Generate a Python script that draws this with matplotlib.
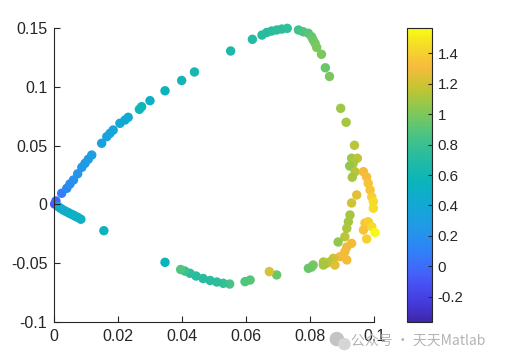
import numpy as np
import matplotlib
matplotlib.use('Agg')
import matplotlib.pyplot as plt
from matplotlib.colors import LinearSegmentedColormap
from matplotlib.patches import Ellipse

# scatter points: x, y and colour value
x = [0.0001, 0.0005, 0.0023, 0.0039, 0.0049, 0.0060, 0.0073, 0.0086, 0.0096, 0.0106,
     0.0117, 0.0148, 0.0164, 0.0174, 0.0184, 0.0205, 0.0221, 0.0231, 0.0266, 0.0273,
     0.0299, 0.0346, 0.0398, 0.0438, 0.0551, 0.0619, 0.0649, 0.0664, 0.0679, 0.0695,
     0.0711, 0.0728, 0.0763, 0.0778, 0.0794, 0.0804, 0.0809, 0.0815, 0.0820, 0.0835,
     0.0847, 0.0860, 0.0895, 0.0912, 0.0938, 0.0929, 0.0947, 0.0934, 0.0923, 0.0940,
     0.0966, 0.0976, 0.0931, 0.0981, 0.0987, 0.0945, 0.0992, 0.0997, 0.0929, 0.0997,
     0.0924, 0.0919, 0.0971, 0.0981, 0.0992, 0.0914, 0.0966, 0.1002, 0.0908, 0.0976,
     0.0887, 0.0929, 0.0914, 0.0908, 0.0893, 0.0914, 0.0872, 0.0862, 0.0877, 0.0851,
     0.0841, 0.0841, 0.0809, 0.0804, 0.0794, 0.0695, 0.0672, 0.0612, 0.0596, 0.0548,
     0.0528, 0.0508, 0.0487, 0.0465, 0.0443, 0.0424, 0.0408, 0.0395, 0.0346, 0.0155,
     0.0083, 0.0074, 0.0066, 0.0059, 0.0051, 0.0044, 0.0036, 0.0028, 0.0020, 0.0013]
y = [0.0004, 0.0030, 0.0095, 0.0137, 0.0174, 0.0208, 0.0260, 0.0315, 0.0349, 0.0383,
     0.0419, 0.0519, 0.0575, 0.0603, 0.0631, 0.0688, 0.0716, 0.0739, 0.0807, 0.0829,
     0.0880, 0.0964, 0.1051, 0.1123, 0.1301, 0.1400, 0.1436, 0.1458, 0.1470, 0.1479,
     0.1487, 0.1493, 0.1479, 0.1464, 0.1451, 0.1422, 0.1394, 0.1366, 0.1331, 0.1273,
     0.1159, 0.1085, 0.0815, 0.0697, 0.0502, 0.0392, 0.0392, 0.0349, 0.0326, 0.0278,
     0.0278, 0.0233, 0.0231, 0.0180, 0.0123, 0.0081, 0.0064, 0.0024, 0.0013, -0.0032,
     -0.0089, -0.0146, -0.0157, -0.0146, -0.0188, -0.0202, -0.0216, -0.0237, -0.0273, -0.0292,
     -0.0318, -0.0329, -0.0360, -0.0400, -0.0442, -0.0470, -0.0456, -0.0485, -0.0513, -0.0498,
     -0.0487, -0.0513, -0.0513, -0.0530, -0.0541, -0.0597, -0.0569, -0.0640, -0.0654, -0.0674,
     -0.0668, -0.0657, -0.0644, -0.0627, -0.0606, -0.0583, -0.0564, -0.0551, -0.0490, -0.0222,
     -0.0125, -0.0110, -0.0100, -0.0089, -0.0079, -0.0069, -0.0058, -0.0047, -0.0033, -0.0019]
c = [-0.08, -0.02, 0.08, 0.15, 0.18, 0.20, 0.23, 0.25, 0.27, 0.28,
     0.30, 0.33, 0.35, 0.36, 0.37, 0.40, 0.42, 0.44, 0.58, 0.58,
     0.50, 0.55, 0.60, 0.62, 0.66, 0.70, 0.72, 0.72, 0.73, 0.74,
     0.75, 0.76, 0.82, 0.86, 0.90, 0.94, 0.96, 0.98, 1.00, 1.00,
     0.95, 1.00, 1.08, 1.10, 1.15, 1.08, 1.15, 1.12, 1.05, 1.15,
     1.30, 1.32, 1.10, 1.35, 1.35, 1.25, 1.40, 1.45, 1.20, 1.45,
     1.10, 1.10, 1.35, 1.40, 1.45, 1.12, 1.35, 1.55, 1.15, 1.40,
     1.05, 1.30, 1.28, 1.30, 1.30, 1.30, 1.20, 1.15, 1.25, 1.15,
     1.12, 1.10, 1.00, 0.98, 0.95, 0.95, 1.22, 0.90, 0.88, 0.85,
     0.78, 0.75, 0.73, 0.72, 0.72, 0.75, 0.80, 0.88, 0.55, 0.55,
     0.52, 0.52, 0.51, 0.50, 0.50, 0.50, 0.49, 0.48, 0.47, 0.45]

xticks = [0, 0.02, 0.04, 0.06, 0.08, 0.1]
yticks = [-0.1, -0.05, 0, 0.05, 0.1, 0.15]
cticks = [-0.2, 0, 0.2, 0.4, 0.6, 0.8, 1, 1.2, 1.4]
clim = (-0.364, 1.566)

# rough parula
parula = LinearSegmentedColormap.from_list('parula', [
    (0.00, (0.2422, 0.1504, 0.6603)),
    (0.06, (0.2691, 0.2236, 0.8569)),
    (0.13, (0.2810, 0.3228, 0.9579)),
    (0.19, (0.2400, 0.4300, 0.9850)),
    (0.25, (0.1800, 0.5200, 0.9700)),
    (0.32, (0.1300, 0.6000, 0.9000)),
    (0.40, (0.0700, 0.6600, 0.8300)),
    (0.48, (0.0400, 0.7100, 0.7300)),
    (0.56, (0.1500, 0.7350, 0.6300)),
    (0.64, (0.3000, 0.7650, 0.5100)),
    (0.72, (0.5200, 0.7850, 0.3300)),
    (0.80, (0.7800, 0.7700, 0.1900)),
    (0.87, (0.9700, 0.7300, 0.2400)),
    (0.94, (0.9600, 0.8600, 0.1600)),
    (1.00, (0.9769, 0.9839, 0.0805)),
])

plt.rcParams['font.family'] = ['Liberation Sans', 'DejaVu Sans']
dark = '#262626'

fig = plt.figure(figsize=(5.05, 3.63), dpi=100)
ax = fig.add_axes([0.1075, 0.1116, 0.6337, 0.8126])
sc = ax.scatter(x, y, c=c, s=46, cmap=parula, vmin=clim[0], vmax=clim[1],
                edgecolors='none', clip_on=False)
ax.set_xlim(0, 0.1)
ax.set_ylim(-0.1, 0.15)
ax.set_xticks(xticks)
ax.set_yticks(yticks)
ax.set_xticklabels(['%g' % v for v in xticks])
ax.set_yticklabels(['%g' % v for v in yticks])
for s in ['top', 'right']:
    ax.spines[s].set_visible(False)
for s in ['left', 'bottom']:
    ax.spines[s].set_color(dark)
    ax.spines[s].set_linewidth(0.8)
ax.tick_params(direction='in', length=4, width=0.8, colors=dark, labelsize=11.5, pad=5)

cax = fig.add_axes([0.8053, 0.1138, 0.0507, 0.809])
cb = fig.colorbar(sc, cax=cax, ticks=cticks)
cb.ax.set_yticklabels(['%g' % v for v in cticks])
cb.outline.set_edgecolor(dark)
cb.outline.set_linewidth(0.8)
cb.ax.tick_params(direction='in', length=3, width=0.8, colors=dark, labelsize=10.8, pad=4)

# watermark
fig.add_artist(Ellipse((0.667, 0.066), 0.026, 0.036, transform=fig.transFigure,
                       color='#c4c4c4', zorder=5))
fig.add_artist(Ellipse((0.682, 0.052), 0.022, 0.030, transform=fig.transFigure,
                       color='#d6d6d6', zorder=5))
fig.text(0.695, 0.058, '公众号 · 天天Matlab', fontsize=10, color='#b4b4b4',
         family=['Noto Sans CJK SC', 'DejaVu Sans'], va='center', ha='left', zorder=6)

fig.savefig('out.png', dpi=100)
